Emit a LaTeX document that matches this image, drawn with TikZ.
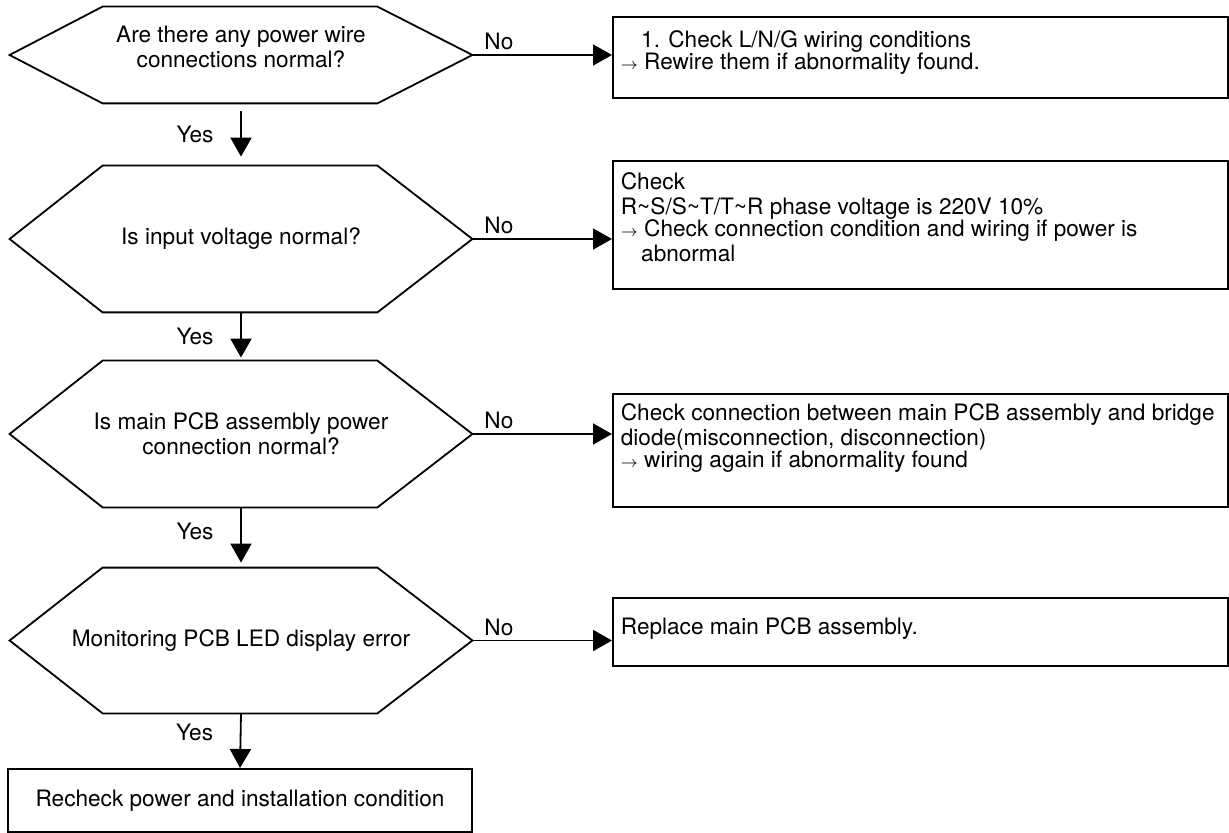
\documentclass[tikz,border=0pt]{standalone}
\usepackage{fontspec}
\setmainfont{TeX Gyre Heros}
\usetikzlibrary{arrows.meta}
\newcommand{\nextstep}{\kern-1.5pt{\fontsize{8}{8}\selectfont$\rightarrow$}\ }
\tikzset{
  outline/.style={line width=0.9pt, line join=miter},
  flow/.style={line width=0.9pt, -{Triangle[length=9.5pt,width=10.5pt]}},
  question/.style={minimum width=231pt, inner sep=0pt, align=center},
  answer/.style={draw, line width=0.9pt, anchor=north west, inner xsep=4pt, inner ysep=0pt},
  yesno/.style={inner sep=2pt},
}
\begin{document}
\begin{tikzpicture}[x=0.5pt,y=-0.5pt,font=\fontsize{11.3}{12.5}\selectfont]
\useasboundingbox (0,0) rectangle (1229,833);
% questions
\node[question, minimum height=48pt] (q1) at (241,55) {\parbox{231pt}{\centering
  Are there any power wire\\connections normal?\par\vspace{8pt}}};
\node[question, minimum height=73pt] (q2) at (241,239) {Is input voltage normal?};
\node[question, minimum height=73pt] (q3) at (241,434) {Is main PCB assembly power\\connection normal?};
\node[question, minimum height=72.5pt] (q4) at (241,640.5) {Monitoring PCB LED display error};
\foreach \q in {q1,q2,q3,q4}
  \draw[outline] (\q.west) -- ([xshift=46.5pt]\q.north west) -- ([xshift=-47.5pt]\q.north east) -- (\q.east)
    -- ([xshift=-47.5pt]\q.south east) -- ([xshift=46.5pt]\q.south west) -- cycle;
% answers
\node[answer] (b1) at (612,16) {\parbox[c][40.5pt][c]{299.5pt}{\raggedright
  \hphantom{\nextstep}1. Check L/N/G wiring conditions\\
  \nextstep Rewire them if abnormality found.\par\vspace{5pt}}};
\node[answer, inner ysep=6pt] (b2) at (612,160) {\parbox[c][52pt][t]{299.5pt}{\raggedright
  Check\\
  R\textasciitilde S/S\textasciitilde T/T\textasciitilde R phase voltage is 220V 10\%\\
  \nextstep Check connection condition and wiring if power is\\
  \hphantom{\nextstep}abnormal}};
\node[answer, inner ysep=5pt] (b3) at (612,393) {\parbox[c][46.5pt][t]{299.5pt}{\raggedright
  Check connection between main PCB assembly and bridge\\
  diode(misconnection, disconnection)\\
  \nextstep wiring again if abnormality found}};
\node[answer] (b4) at (612,597) {\parbox[c][34pt][c]{299.5pt}{\raggedright
  Replace main PCB assembly.\par\vspace{3pt}}};
\node[draw, line width=0.9pt, anchor=north, minimum width=232pt, minimum height=31.5pt] (r) at (240,768)
  {Recheck power and installation condition};
% no branches
\draw[flow] (q1.east) -- node[yesno, above, pos=0.19] {No} (q1.east -| b1.west);
\draw[flow] (q2.east) -- node[yesno, above, pos=0.19] {No} (q2.east -| b2.west);
\draw[flow] (q3.east) -- node[yesno, above, pos=0.19] {No} (q3.east -| b3.west);
\draw[flow] (q4.east) -- node[yesno, above, pos=0.19] {No} (q4.east -| b4.west);
% yes branches
\draw[flow, shorten <=4pt, shorten >=4.5pt] (q1.south) -- node[left=10pt] {Yes} (q2.north);
\draw[flow, shorten >=1.5pt] (q2.south) -- node[left=10pt] {Yes} (q3.north);
\draw[flow, shorten >=2.5pt] (q3.south) -- node[left=10pt, pos=0.4] {Yes} (q4.north);
\draw[flow] (q4.south) -- node[left=10pt, pos=0.35] {Yes} (r.north);
\end{tikzpicture}
\end{document}
